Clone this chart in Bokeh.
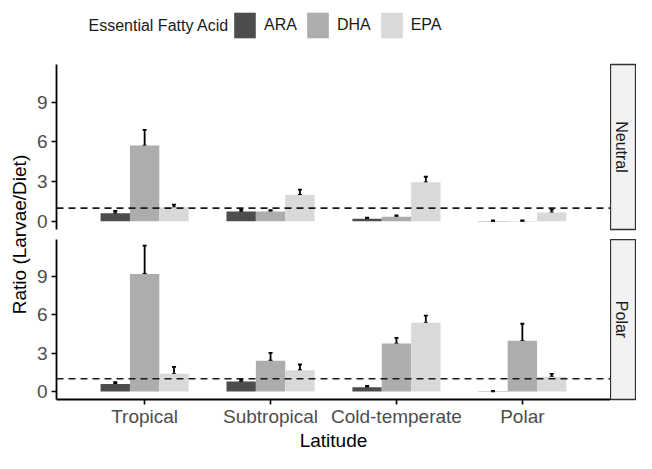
import math
from bokeh.plotting import figure
from bokeh.models import (FactorRange, Range1d, ColumnDataSource, Whisker, TeeHead, Span,
                          Legend, LegendItem, Label, FixedTicker)
from bokeh.transform import dodge
from bokeh.layouts import row, column
from bokeh.embed import file_html
from bokeh.resources import INLINE

# ---------------- data ----------------
latitudes = ["Tropical", "Subtropical", "Cold-temperate", "Polar"]
acids = ["ARA", "DHA", "EPA"]
acid_colors = ["#4D4D4D", "#ADADAD", "#D9D9D9"]

# Neutral lipid fraction: mean ratio and upper end of error bar (mean + SE)
neutral_ara = [0.60, 0.74, 0.20, 0.02]
neutral_ara_hi = [0.78, 0.90, 0.27, 0.07]
neutral_dha = [5.73, 0.74, 0.34, 0.02]
neutral_dha_hi = [6.91, 0.84, 0.44, 0.07]
neutral_epa = [1.06, 1.99, 2.95, 0.66]
neutral_epa_hi = [1.26, 2.39, 3.37, 0.88]

# Polar lipid fraction
polar_ara = [0.59, 0.79, 0.34, 0.02]
polar_ara_hi = [0.74, 0.93, 0.44, 0.05]
polar_dha = [9.17, 2.41, 3.74, 3.96]
polar_dha_hi = [11.38, 3.02, 4.18, 5.29]
polar_epa = [1.38, 1.67, 5.36, 1.16]
polar_epa_hi = [1.92, 2.11, 5.93, 1.38]

y_ticks = [0, 3, 6, 9]
reference_ratio = 1

FONT = "Liberation Sans"
TXT = "#4D4D4D"

x_range = FactorRange(*latitudes, range_padding=0.2, range_padding_units="absolute")
y_range = Range1d(-0.62, 11.86)

offsets = [-0.2333, 0.0, 0.2333]
bar_w = 0.2333

TOTAL_W = 636
LEG_H = 60
YT_W = 33
LEFT = 22
FRAME_W = 555
STRIP_W = TOTAL_W - YT_W - LEFT - FRAME_W
FRAME_H = 165
TOP_B = 4
GAP = 10
BOT_B = 49


def make_panel(vals, his, top_border, bottom_border, with_xaxis):
    src = ColumnDataSource(dict(lat=latitudes,
                                ARA=vals[0], ARA_hi=his[0],
                                DHA=vals[1], DHA_hi=his[1],
                                EPA=vals[2], EPA_hi=his[2]))
    p = figure(x_range=x_range, y_range=y_range,
               width=LEFT + FRAME_W, height=top_border + FRAME_H + bottom_border,
               output_backend="svg", toolbar_location=None, title=None,
               x_axis_type="auto" if with_xaxis else None,
               min_border_left=LEFT, min_border_right=0,
               min_border_top=top_border, min_border_bottom=bottom_border)
    p.outline_line_color = None
    p.grid.visible = False
    p.background_fill_color = "white"
    p.border_fill_color = "white"

    for a, off, col in zip(acids, offsets, acid_colors):
        p.vbar(x=dodge("lat", off, range=x_range), top=a, width=bar_w,
               source=src, fill_color=col, line_color=None)

    p.add_layout(Span(location=reference_ratio, dimension="width", line_color="#1A1A1A",
                      line_width=1.6, line_dash="7 5"))

    for a, off in zip(acids, offsets):
        w = Whisker(base=dodge("lat", off, range=x_range), lower=a, upper=a + "_hi",
                    source=src, line_color="black", line_width=1.8,
                    upper_head=TeeHead(size=4, line_color="black", line_width=1.8),
                    lower_head=TeeHead(size=4, line_color="black", line_width=1.8))
        p.add_layout(w)

    yax = p.yaxis[0]
    yax.ticker = FixedTicker(ticks=y_ticks)
    yax.axis_line_color = "black"
    yax.axis_line_width = 1.8
    yax.major_tick_line_color = "black"
    yax.major_tick_line_width = 1.6
    yax.major_tick_in = 0
    yax.major_tick_out = 5
    yax.minor_tick_line_color = None
    yax.major_label_standoff = 4
    yax.major_label_text_font = FONT
    yax.major_label_text_font_size = "19px"
    yax.major_label_text_color = TXT

    if with_xaxis:
        xax = p.xaxis[0]
        xax.axis_line_color = "black"
        xax.axis_line_width = 1.8
        xax.major_tick_line_color = "black"
        xax.major_tick_line_width = 1.6
        xax.major_tick_in = 0
        xax.major_tick_out = 5
        xax.minor_tick_line_color = None
        xax.major_label_standoff = 1
        xax.major_label_text_font = FONT
        xax.major_label_text_font_size = "19px"
        xax.major_label_text_color = TXT
        xax.axis_label = "Latitude"
        xax.axis_label_standoff = 0
        xax.axis_label_text_font = FONT
        xax.axis_label_text_font_size = "19px"
        xax.axis_label_text_font_style = "normal"
        xax.axis_label_text_color = "black"
    return p


def make_strip(text, height, top_border, bottom_border):
    s = figure(x_range=Range1d(0, 1), y_range=Range1d(0, 1), width=STRIP_W, height=height,
               output_backend="svg", toolbar_location=None, title=None,
               x_axis_type=None, y_axis_type=None,
               min_border_left=0, min_border_right=1,
               min_border_top=top_border, min_border_bottom=bottom_border)
    s.grid.visible = False
    s.background_fill_color = "#F2F2F2"
    s.border_fill_color = "white"
    s.outline_line_color = "#333333"
    s.outline_line_width = 1.3
    s.add_layout(Label(x=0.45, y=0.5, text=text, angle=-math.pi / 2,
                       text_align="center", text_baseline="middle",
                       text_font=FONT, text_font_size="16px", text_color="#1A1A1A"))
    return s


p_top = make_panel([neutral_ara, neutral_dha, neutral_epa],
                   [neutral_ara_hi, neutral_dha_hi, neutral_epa_hi],
                   TOP_B, GAP, False)
p_bot = make_panel([polar_ara, polar_dha, polar_epa],
                   [polar_ara_hi, polar_dha_hi, polar_epa_hi],
                   0, BOT_B, True)

# ---------------- legend strip across the top ----------------
leg_fig = figure(x_range=Range1d(0, TOTAL_W), y_range=Range1d(0, LEG_H),
                 width=TOTAL_W, height=LEG_H, output_backend="svg",
                 toolbar_location=None, title=None, x_axis_type=None, y_axis_type=None,
                 min_border_left=0, min_border_right=0, min_border_top=0, min_border_bottom=0)
leg_fig.outline_line_color = None
leg_fig.grid.visible = False
key_renderers = []
for col in acid_colors:
    # zero-size proxy glyphs: they only supply the legend key colours
    key_renderers.append(leg_fig.vbar(x=[0], top=[0], bottom=[0], width=0,
                                      fill_color=col, line_color=None))
legend = Legend(items=[LegendItem(label=a, renderers=[r]) for a, r in zip(acids, key_renderers)],
                orientation="horizontal", location=(231, 19),
                glyph_width=27, glyph_height=32, label_standoff=6, spacing=7,
                padding=0, margin=0, border_line_color=None, background_fill_alpha=0,
                label_text_font=FONT, label_text_font_size="16px",
                label_text_color="#1A1A1A")
leg_fig.add_layout(legend)
leg_fig.add_layout(Label(x=88, y=LEG_H - 25, text="Essential Fatty Acid",
                         text_align="left", text_baseline="middle",
                         text_font=FONT, text_font_size="16px", text_color="#1A1A1A"))

strip_top = make_strip("Neutral", TOP_B + FRAME_H + GAP, TOP_B, GAP)
strip_bot = make_strip("Polar", FRAME_H + BOT_B, 0, BOT_B)

# ---------------- y axis title spanning both panels ----------------
body_h = TOP_B + FRAME_H + GAP + FRAME_H + BOT_B
ytitle = figure(x_range=Range1d(0, 1), y_range=Range1d(0, 1), width=YT_W, height=body_h,
                output_backend="svg", toolbar_location=None, title=None,
                x_axis_type=None, y_axis_type=None,
                min_border_left=0, min_border_right=0,
                min_border_top=TOP_B, min_border_bottom=BOT_B)
ytitle.outline_line_color = None
ytitle.grid.visible = False
ytitle.add_layout(Label(x=0.58, y=0.5, text="Ratio (Larvae/Diet)", angle=math.pi / 2,
                        text_align="center", text_baseline="middle",
                        text_font=FONT, text_font_size="19px", text_color="black"))

layout = column(leg_fig,
                row(ytitle, column(row(p_top, strip_top), row(p_bot, strip_bot))))

open("out.html", "w").write(file_html(layout, INLINE))
